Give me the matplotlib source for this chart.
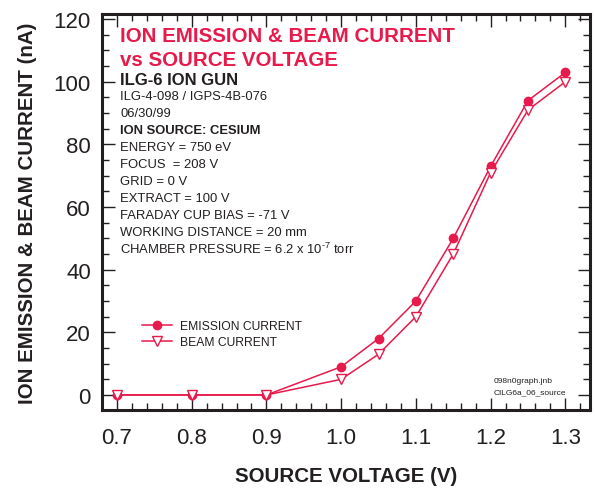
import numpy as np
import matplotlib.pyplot as plt
from matplotlib.ticker import MultipleLocator

plt.rcParams['font.family'] = ['Liberation Sans', 'DejaVu Sans']
plt.rcParams['mathtext.fontset'] = 'custom'
plt.rcParams['mathtext.rm'] = 'Liberation Sans'
plt.rcParams['mathtext.it'] = 'Liberation Sans'
plt.rcParams['mathtext.default'] = 'regular'

voltage = [0.7, 0.8, 0.9, 1.0, 1.05, 1.1, 1.15, 1.2, 1.25, 1.3]
emission = [0, 0, 0, 9, 18, 30, 50, 73, 94, 103]
beam = [0, 0, 0, 5, 13, 25, 45, 71, 91, 100]

info_lines = [
    ("ILG-6 ION GUN", "bold", 12),
    ("ILG-4-098 / IGPS-4B-076", "normal", 9.4),
    ("06/30/99", "normal", 9.4),
    ("ION SOURCE: CESIUM", "bold", 9.4),
    ("ENERGY = 750 eV", "normal", 9.4),
    ("FOCUS  = 208 V", "normal", 9.4),
    ("GRID = 0 V", "normal", 9.4),
    ("EXTRACT = 100 V", "normal", 9.4),
    ("FARADAY CUP BIAS = -71 V", "normal", 9.4),
    ("WORKING DISTANCE = 20 mm", "normal", 9.4),
    ("CHAMBER PRESSURE = 6.2 x 10$^{\\text{-7}}$ torr", "normal", 9.4),
]

red = "#e8194b"
dark = "#231f20"

fig = plt.figure(figsize=(5.95, 4.89), dpi=100)
ax = fig.add_axes([0.1714, 0.1595, 0.8202, 0.8095])

ax.plot(voltage, emission, color=red, lw=1.1, marker="o", ms=6,
        mfc=red, mec=red, label="EMISSION CURRENT")
ax.plot(voltage, beam, color=red, lw=1.1, marker="v", ms=7,
        mfc="white", mec=red, label="BEAM CURRENT")

ax.set_xlim(0.68, 1.333)
ax.set_ylim(-4.8, 121.6)
ax.xaxis.set_minor_locator(MultipleLocator(0.02))
ax.yaxis.set_major_locator(MultipleLocator(20))
ax.yaxis.set_minor_locator(MultipleLocator(5))
xt = np.arange(0.7, 1.31, 0.1)
ax.set_xticks(xt)
ax.set_xticklabels(["%.1f" % v for v in xt])

ax.tick_params(which="both", direction="in", top=True, right=True,
               colors=dark, labelsize=16)
ax.tick_params(which="major", length=9, width=1)
ax.tick_params(which="minor", length=5, width=1)
ax.tick_params(axis="x", pad=12)
ax.tick_params(axis="y", pad=8)
for s in ax.spines.values():
    s.set_linewidth(2.2)
    s.set_color(dark)

ax.set_xlabel("SOURCE VOLTAGE (V)", fontsize=14.8, fontweight="bold",
              color=dark, labelpad=13)
ax.set_ylabel("ION EMISSION & BEAM CURRENT (nA)", fontsize=14.8,
              fontweight="bold", color=dark, labelpad=12)

ax.text(0.037, 0.947, "ION EMISSION & BEAM CURRENT", transform=ax.transAxes,
        fontsize=14.8, fontweight="bold", color=red, va="center", ha="left")
ax.text(0.037, 0.886, "vs SOURCE VOLTAGE", transform=ax.transAxes,
        fontsize=14.8, fontweight="bold", color=red, va="center", ha="left")

y0 = 0.835
for i, (txt, wt, sz) in enumerate(info_lines):
    ax.text(0.037, y0 - i * 0.0428, txt, transform=ax.transAxes,
            fontsize=sz, fontweight=wt, color=dark, va="center", ha="left")

ax.text(0.803, 0.075, "098n0graph.jnb", transform=ax.transAxes,
        fontsize=6, color=dark, va="center")
ax.text(0.803, 0.045, "CILG6a_06_source", transform=ax.transAxes,
        fontsize=6, color=dark, va="center")

leg = ax.legend(loc="upper left", bbox_to_anchor=(0.06, 0.255), frameon=False,
                fontsize=8.7, handlelength=2.5, handletextpad=0.6,
                labelspacing=0.35)
for t in leg.get_texts():
    t.set_color(dark)

fig.savefig("out.png", dpi=100)
